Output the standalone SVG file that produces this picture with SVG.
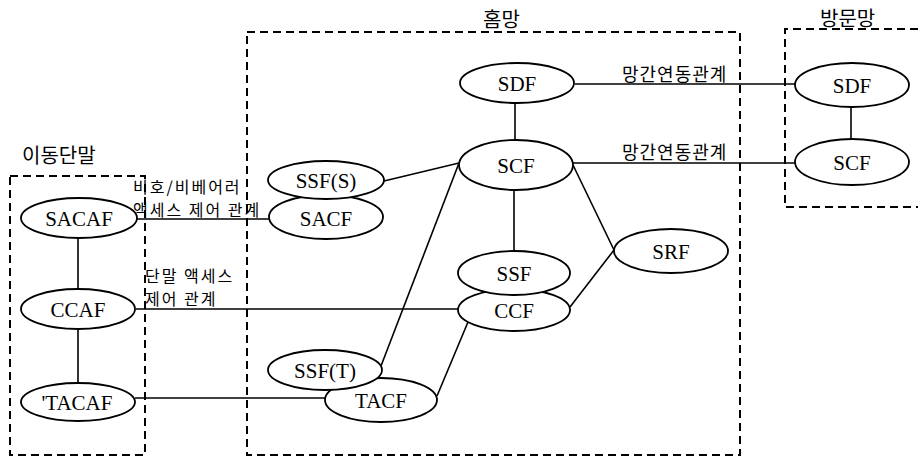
<svg xmlns="http://www.w3.org/2000/svg" width="918" height="459" viewBox="0 0 918 459">
  <style>
    .bg { fill: #ffffff; }
    .domain { fill: none; stroke: #000; stroke-width: 2; stroke-dasharray: 8 5; }
    .node ellipse { fill: #ffffff; stroke: #000; stroke-width: 1.8; }
    .node text { font-family: "Liberation Serif", "Times New Roman", serif; font-size: 21px; text-anchor: middle; fill: #000; }
    .links line { stroke: #000; stroke-width: 1.6; }
    .ko { font-family: "Noto Sans CJK KR", "Noto Sans", sans-serif; fill: #000; }
    .title { font-size: 20px; }
    .rel { font-size: 16px; letter-spacing: 2px; }
    .iw { font-size: 18px; letter-spacing: 1px; }
  </style>

  <rect class="bg" x="0" y="0" width="918" height="459"/>

  <!-- domain boundaries -->
  <g id="domains">
    <rect id="mobile-terminal" class="domain" x="10" y="176" width="135" height="279"/>
    <rect id="home-network" class="domain" x="247" y="32" width="493" height="423"/>
    <path id="visited-network" class="domain" d="M918,29 H785 V207 H918"/>
    <text class="ko title" x="22" y="163">이동단말</text>
    <text class="ko title" x="483" y="27">홈망</text>
    <text class="ko title" x="820" y="26">방문망</text>
  </g>

  <!-- connectors -->
  <g id="connectors" class="links">
    <line x1="137" y1="219" x2="269" y2="219"/>
    <line x1="136" y1="309" x2="458" y2="309"/>
    <line x1="135" y1="398" x2="325" y2="398"/>
    <line x1="78" y1="238" x2="78" y2="289"/>
    <line x1="78" y1="329" x2="78" y2="383"/>
    <line x1="515" y1="103" x2="515" y2="140"/>
    <line x1="514" y1="190" x2="514" y2="251"/>
    <line x1="851" y1="107" x2="851" y2="139"/>
    <line x1="384" y1="181" x2="459" y2="163"/>
    <line x1="459" y1="163" x2="381" y2="366"/>
    <line x1="468" y1="322" x2="437" y2="396"/>
    <line x1="573" y1="165" x2="614" y2="250"/>
    <line x1="570" y1="307" x2="614" y2="250"/>
    <line x1="575" y1="84" x2="795" y2="84"/>
    <line x1="573" y1="163" x2="795" y2="163"/>
  </g>

  <!-- relationship labels -->
  <g id="labels">
    <text class="ko rel" x="133" y="193">비호/비베어러</text>
    <text class="ko rel" x="133" y="216">액세스 제어 관계</text>
    <text class="ko rel" x="145" y="282">단말 액세스</text>
    <text class="ko rel" x="145" y="305">제어 관계</text>
    <text class="ko iw" x="622" y="81">망간연동관계</text>
    <text class="ko iw" x="622" y="159">망간연동관계</text>
  </g>

  <!-- terminal functions -->
  <g id="SACAF" class="node"><ellipse cx="79" cy="218" rx="58" ry="20"/><text x="79" y="226">SACAF</text></g>
  <g id="CCAF" class="node"><ellipse cx="78" cy="309" rx="57" ry="20"/><text x="78" y="317">CCAF</text></g>
  <g id="TACAF" class="node"><ellipse cx="78" cy="402" rx="57" ry="19"/><text x="77" y="410">'TACAF</text></g>

  <!-- home network functions -->
  <g id="SDF-home" class="node"><ellipse cx="517" cy="83" rx="57" ry="20"/><text x="517" y="91">SDF</text></g>
  <g id="SCF-home" class="node"><ellipse cx="516" cy="165" rx="57" ry="25"/><text x="516" y="173">SCF</text></g>
  <g id="SACF" class="node"><ellipse cx="326" cy="217" rx="57" ry="22"/><text x="326" y="226">SACF</text></g>
  <g id="SSF-S" class="node"><ellipse cx="326" cy="180" rx="58" ry="19"/><text x="326" y="188">SSF(S)</text></g>
  <g id="CCF" class="node"><ellipse cx="514" cy="310" rx="56" ry="21"/><text x="514" y="318">CCF</text></g>
  <g id="SSF" class="node"><ellipse cx="514" cy="273" rx="56" ry="22"/><text x="514" y="281">SSF</text></g>
  <g id="SRF" class="node"><ellipse cx="671" cy="251" rx="57" ry="22"/><text x="671" y="259">SRF</text></g>
  <g id="TACF" class="node"><ellipse cx="381" cy="400" rx="56" ry="22"/><text x="381" y="408">TACF</text></g>
  <g id="SSF-T" class="node"><ellipse cx="325" cy="370" rx="57" ry="20"/><text x="325" y="378">SSF(T)</text></g>

  <!-- visited network functions -->
  <g id="SDF-visited" class="node"><ellipse cx="852" cy="85" rx="57" ry="22"/><text x="852" y="93">SDF</text></g>
  <g id="SCF-visited" class="node"><ellipse cx="852" cy="162" rx="57" ry="23"/><text x="852" y="170">SCF</text></g>
</svg>
